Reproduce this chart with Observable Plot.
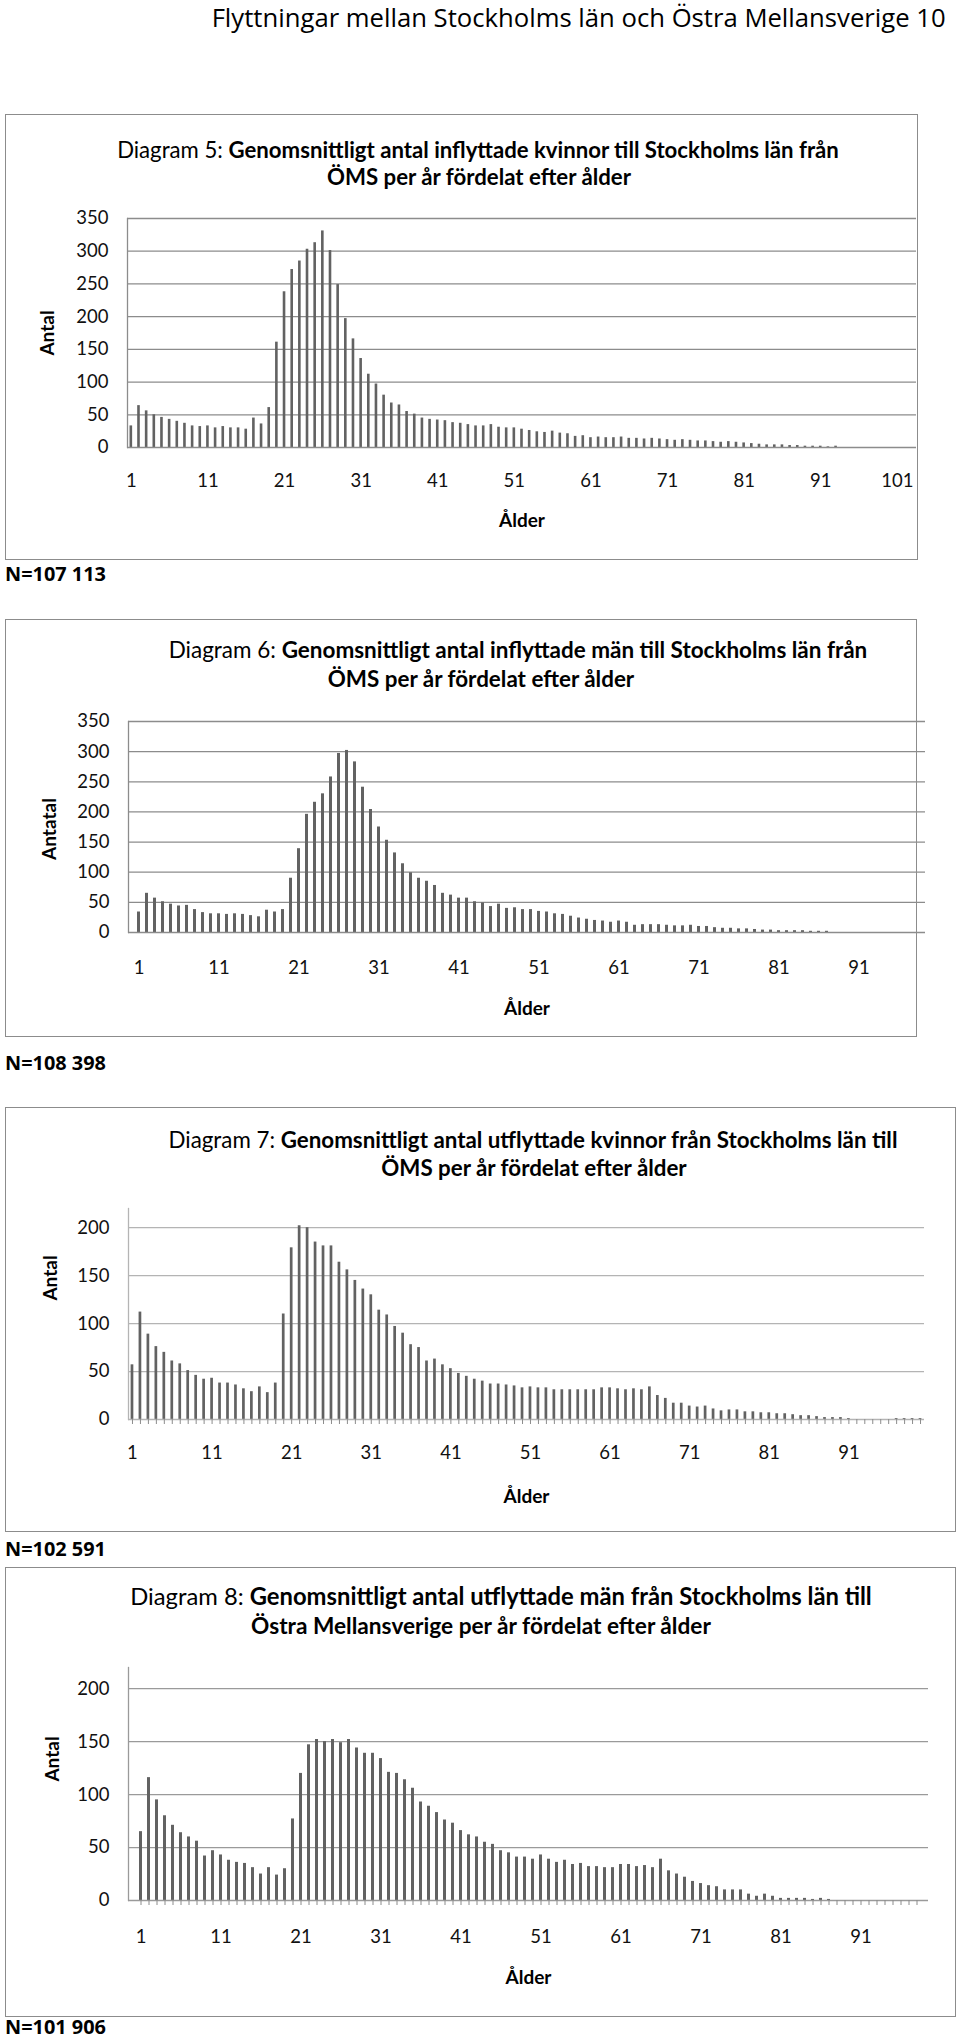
<!DOCTYPE html>
<html><head><meta charset="utf-8">
<script src="https://cdn.jsdelivr.net/npm/d3@7"></script>
<script src="https://cdn.jsdelivr.net/npm/@observablehq/plot@0.6"></script>
<style>
body{margin:0;background:#fff;}
#page{position:relative;width:960px;height:2040px;overflow:hidden;background:#fff;}
.box{position:absolute;border:1.5px solid #8c8c8c;box-sizing:border-box;}
.fit{position:absolute;white-space:nowrap;color:#000;line-height:1.15;}
.title{font-family:Lato,sans-serif;font-weight:bold;}
.title .reg{font-weight:normal;}
.nlab{font-family:"Open Sans",sans-serif;font-weight:bold;line-height:1;}
.header{font-family:"Open Sans",sans-serif;transform-origin:right center;line-height:1;}
.plot{position:absolute;left:0;}
</style></head><body><div id="page"></div>
<script>
// ---------- data ----------
const header = "Flyttningar mellan Stockholms län och Östra Mellansverige  10";

const titles5 = ["Diagram 5: ", "Genomsnittligt antal inflyttade kvinnor till Stockholms län från", "ÖMS per år fördelat efter ålder"];
const titles6 = ["Diagram 6: ", "Genomsnittligt antal inflyttade män till Stockholms län från", "ÖMS per år fördelat efter ålder"];
const titles7 = ["Diagram 7: ", "Genomsnittligt antal utflyttade kvinnor från Stockholms län till", "ÖMS per år fördelat efter ålder"];
const titles8 = ["Diagram 8: ", "Genomsnittligt antal utflyttade män från Stockholms län till", "Östra Mellansverige per år fördelat efter ålder"];

const yLabels = ["Antal", "Antatal", "Antal", "Antal"];
const xLabel = "Ålder";
const nLabels = ["N=107 113", "N=108 398", "N=102 591", "N=101 906"];

// values by age (age 1, 2, 3, ...)
const values5 = [33,64,56,50,46,43,40,37,33,32,33,30,32,30,30,28,45,36,61,161,
  238,272,285,303,313,331,301,249,197,166,136,112,97,80,68,65,55,51,45,43,
  42,41,38,37,35,33,33,35,31,30,30,28,26,24,23,25,22,21,17,18,
  15,16,15,15,16,14,14,13,14,13,12,11,12,11,10,10,9,8,9,8,
  7,6,5,4,4,4,3,3,2,2,2,1,2,0,0,0,0,0,0,0,
  0,0,0];
const values6 = [34,65,57,51,47,44,45,38,33,31,31,30,31,30,28,26,37,34,38,90,
  139,196,216,230,258,297,302,283,241,204,175,153,132,114,99,90,85,78,65,62,
  57,57,51,49,43,47,40,41,38,38,35,34,31,30,27,24,22,20,19,17,
  19,17,12,13,13,13,12,11,11,12,10,10,8,7,7,6,6,5,4,4,
  3,3,3,3,2,2,2,0,0,0,0,0,0,0,0,0,0,0];
const values7 = [57,112,89,76,70,61,58,51,46,42,43,38,38,36,32,29,34,28,38,110,
  179,202,200,185,181,181,164,156,145,136,130,114,109,97,90,78,75,61,63,57,
  53,48,45,42,40,37,37,36,35,33,34,33,33,31,31,31,31,31,31,33,
  33,32,31,32,31,34,25,22,17,17,14,13,14,11,9,10,10,8,8,7,
  7,6,6,5,4,4,3,2,2,2,1,0,0,0,0,0,1,1,1,1];
const values8 = [65,116,95,80,71,64,60,56,42,47,43,38,36,35,31,25,31,24,30,77,
  120,147,152,150,152,149,152,144,139,139,134,121,120,114,106,93,89,83,76,73,
  66,62,60,55,53,47,45,41,41,39,43,39,36,38,34,35,32,32,31,31,
  34,34,32,33,31,39,28,25,22,18,16,14,13,10,10,10,6,4,6,4,
  2,2,2,2,1,2,1,0,0,0,0,0,0,0,0,0,0,0];

const yTicks5 = [0,50,100,150,200,250,300,350];
const yTicks6 = [0,50,100,150,200,250,300,350];
const yTicks7 = [0,50,100,150,200];
const yTicks8 = [0,50,100,150,200];
const xTicks5 = [1,11,21,31,41,51,61,71,81,91,101];
const xTicks6 = [1,11,21,31,41,51,61,71,81,91];
const xTicks7 = [1,11,21,31,41,51,61,71,81,91];
const xTicks8 = [1,11,21,31,41,51,61,71,81,91];

// ---------- layout ----------
const page = document.getElementById("page");

function addFit(cls, html, target, cx, cy, align) {
  const el = document.createElement("div");
  el.className = "fit " + cls;
  el.style.fontSize = "20px";
  el.innerHTML = html;
  page.appendChild(el);
  const r = el.getBoundingClientRect();
  const fs = 20 * target / r.width;
  el.style.fontSize = fs + "px";
  const r2 = el.getBoundingClientRect();
  const left = align === "right" ? cx - r2.width : align === "left" ? cx : cx - r2.width / 2;
  el.style.left = left + "px";
  el.style.top = (cy - r2.height / 2) + "px";
  return el;
}
function addScaled(cls, html, fontSize, target, right, cy) {
  const el = document.createElement("div");
  el.className = "fit " + cls;
  el.style.fontSize = fontSize + "px";
  el.innerHTML = html;
  page.appendChild(el);
  const r = el.getBoundingClientRect();
  el.style.left = (right - r.width) + "px";
  el.style.top = (cy - r.height / 2) + "px";
  el.style.transform = `scaleX(${target / r.width})`;
  return el;
}
function addBox(l, t, r, b) {
  const el = document.createElement("div");
  el.className = "box";
  Object.assign(el.style, {left: l + "px", top: t + "px", width: (r - l) + "px", height: (b - t) + "px"});
  page.appendChild(el);
}

addScaled("header", header, 26, 734, 946, 17);

const charts = [
  {values: values5, yTicks: yTicks5, xTicks: xTicks5, titles: titles5, yLabel: yLabels[0], n: nLabels[0],
   box: [5,114,918,560], nY: 574, t1: [722,478,150], t2: [234*1.3,479,177],
   top: 200, h: 340, mt: 18, mb: 93, ml: 127, mr: 44, yMax: 350, grid: "#8c8c8c",
   tickSize: 0, tickPad: 26, allTicks: false, ylDx: -80, ylDy: 0, xlDy: 73},
  {values: values6, yTicks: yTicks6, xTicks: xTicks6, titles: titles6, yLabel: yLabels[1], n: nLabels[1],
   box: [5,619,917,1037], nY: 1063, t1: [699,518,650], t2: [236*1.3,481,679],
   top: 700, h: 340, mt: 21, mb: 108, ml: 128, mr: 35, yMax: 350, grid: "#8c8c8c",
   tickSize: 0, tickPad: 28, allTicks: false, ylDx: -79, ylDy: 2, xlDy: 76},
  {values: values7, yTicks: yTicks7, xTicks: xTicks7, titles: titles7, yLabel: yLabels[2], n: nLabels[2],
   box: [5,1107,956,1532], nY: 1549, t1: [729,533,1139.5], t2: [235*1.3,534,1168],
   top: 1190, h: 340, mt: 18, mb: 111, ml: 128, mr: 36, yMax: 220, grid: "#b4b4b4",
   tickSize: 5, tickPad: 21, allTicks: true, ylDx: -78, ylDy: -36, xlDy: 77},
  {values: values8, yTicks: yTicks8, xTicks: xTicks8, titles: titles8, yLabel: yLabels[3], n: nLabels[3],
   box: [5,1567,956,2017], nY: 2027, t1: [742,501,1597], t2: [354*1.3,481,1626],
   top: 1650, h: 330, mt: 17, mb: 80, ml: 128, mr: 32, yMax: 220, grid: "#9a9a9a",
   tickSize: 5, tickPad: 24, allTicks: true, ylDx: -76, ylDy: -25, xlDy: 77}
];

for (const c of charts) {
  addBox(...c.box);
  addFit("title", `<span class="reg">${c.titles[0]}</span>${c.titles[1]}`, c.t1[0], c.t1[1], c.t1[2], "center");
  addFit("title", c.titles[2], c.t2[0], c.t2[1], c.t2[2], "center");
  addFit("nlab", c.n, 101, 5, c.nY, "left");

  const data = c.values.map((v, i) => ({age: i + 1, v}));
  const ages = data.map(d => d.age);
  const svg = Plot.plot({
    width: 960, height: c.h,
    marginTop: c.mt, marginBottom: c.mb, marginLeft: c.ml, marginRight: c.mr,
    style: {fontFamily: "Lato, sans-serif", fontSize: "18.5px", color: "#111", background: "none", overflow: "visible"},
    x: {type: "band", domain: ages, paddingInner: 0.66, paddingOuter: 0.33},
    y: {domain: [0, c.yMax]},
    marks: [
      Plot.gridY(c.yTicks.filter(t => t > 0), {stroke: c.grid, strokeOpacity: 1, strokeWidth: 1.3}),
      Plot.barY(data, {x: "age", y: "v", fill: "#626262"}),
      Plot.ruleY([0], {stroke: c.grid, strokeWidth: 1.3}),
      Plot.axisY(c.yTicks, {tickSize: 0, tickPadding: 19, label: null}),
      Plot.axisX(c.allTicks ? ages : c.xTicks, {
        tickSize: c.tickSize, tickPadding: c.tickPad, stroke: "#8c8c8c",
        tickFormat: d => c.xTicks.includes(d) ? String(d) : "", label: null}),
      Plot.frame({anchor: "left", stroke: c.grid, strokeWidth: 1.3}),
      Plot.text([c.yLabel], {text: d => d, frameAnchor: "left", textAnchor: "middle", lineAnchor: "middle",
        dx: c.ylDx, dy: c.ylDy, rotate: -90, fontWeight: "bold", fontSize: 19, fill: "#000"}),
      Plot.text([xLabel], {text: d => d, frameAnchor: "bottom", textAnchor: "middle", lineAnchor: "middle",
        dy: c.xlDy, fontWeight: "bold", fontSize: 19, fill: "#000"})
    ]
  });
  svg.classList.add("plot");
  svg.style.top = c.top + "px";
  page.appendChild(svg);
}
</script>
</body></html>
